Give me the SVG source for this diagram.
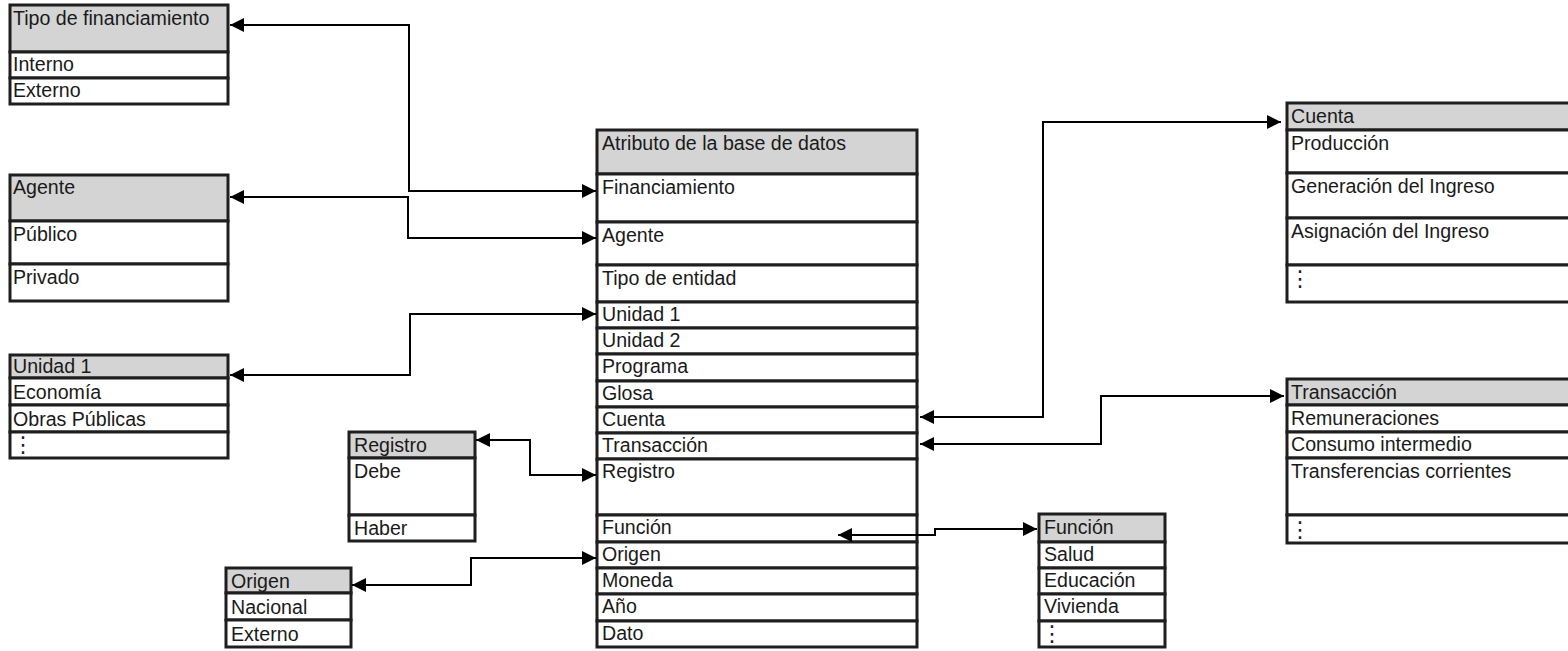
<svg xmlns="http://www.w3.org/2000/svg" width="1568" height="651" viewBox="0 0 1568 651">
<defs>
<style>
.h{fill:#d4d4d4;stroke:#1e1e1e;stroke-width:3}
.r{fill:#ffffff;stroke:#1e1e1e;stroke-width:3}
text{font-family:"Liberation Sans",Arial,sans-serif;font-size:19.6px;fill:#1a1a1a}
.d{font-family:"DejaVu Sans","Liberation Sans",sans-serif;font-size:22px}
.c{fill:none;stroke:#000;stroke-width:2}
</style>
<marker id="ah" viewBox="0 0 14 14" refX="14" refY="7" markerWidth="14" markerHeight="14" markerUnits="userSpaceOnUse" orient="auto-start-reverse">
<path d="M0,0 L14,7 L0,14 z" fill="#000"/>
</marker>
</defs>
<rect width="1568" height="651" fill="#fff"/>

<g id="tipo-financiamiento">
<rect class="h" x="10" y="5" width="218" height="47"/>
<rect class="r" x="10" y="52" width="218" height="26"/>
<rect class="r" x="10" y="78" width="218" height="26"/>
<text x="13" y="25">Tipo de financiamiento</text>
<text x="13" y="71">Interno</text>
<text x="13" y="97">Externo</text>
</g>

<g id="agente">
<rect class="h" x="10" y="175" width="218" height="46"/>
<rect class="r" x="10" y="221" width="218" height="43"/>
<rect class="r" x="10" y="264" width="218" height="37"/>
<text x="13" y="194">Agente</text>
<text x="13" y="241">Público</text>
<text x="13" y="284">Privado</text>
</g>

<g id="unidad1">
<rect class="h" x="10" y="355" width="218" height="23"/>
<rect class="r" x="10" y="378" width="218" height="27"/>
<rect class="r" x="10" y="405" width="218" height="27"/>
<rect class="r" x="10" y="432" width="218" height="26"/>
<text x="13" y="373">Unidad 1</text>
<text x="13" y="399">Economía</text>
<text x="13" y="426">Obras Públicas</text>
<text class="d" x="12" y="452">⋮</text>
</g>

<g id="registro">
<rect class="h" x="349" y="432" width="126" height="26"/>
<rect class="r" x="349" y="458" width="126" height="57"/>
<rect class="r" x="349" y="515" width="126" height="26"/>
<text x="354" y="452">Registro</text>
<text x="354" y="478">Debe</text>
<text x="354" y="535">Haber</text>
</g>

<g id="origen">
<rect class="h" x="226" y="568" width="125" height="25"/>
<rect class="r" x="226" y="593" width="125" height="27"/>
<rect class="r" x="226" y="620" width="125" height="27"/>
<text x="231" y="588">Origen</text>
<text x="231" y="614">Nacional</text>
<text x="231" y="641">Externo</text>
</g>

<g id="atributos">
<rect class="h" x="597" y="130" width="320" height="44"/>
<rect class="r" x="597" y="174" width="320" height="48"/>
<rect class="r" x="597" y="222" width="320" height="43"/>
<rect class="r" x="597" y="265" width="320" height="37"/>
<rect class="r" x="597" y="302" width="320" height="26"/>
<rect class="r" x="597" y="328" width="320" height="26"/>
<rect class="r" x="597" y="354" width="320" height="27"/>
<rect class="r" x="597" y="381" width="320" height="26"/>
<rect class="r" x="597" y="407" width="320" height="26"/>
<rect class="r" x="597" y="433" width="320" height="26"/>
<rect class="r" x="597" y="459" width="320" height="56"/>
<rect class="r" x="597" y="515" width="320" height="27"/>
<rect class="r" x="597" y="542" width="320" height="26"/>
<rect class="r" x="597" y="568" width="320" height="26"/>
<rect class="r" x="597" y="594" width="320" height="27"/>
<rect class="r" x="597" y="621" width="320" height="26"/>
<text x="602" y="150">Atributo de la base de datos</text>
<text x="602" y="194">Financiamiento</text>
<text x="602" y="242">Agente</text>
<text x="602" y="285">Tipo de entidad</text>
<text x="602" y="321">Unidad 1</text>
<text x="602" y="347">Unidad 2</text>
<text x="602" y="373">Programa</text>
<text x="602" y="400">Glosa</text>
<text x="602" y="426">Cuenta</text>
<text x="602" y="452">Transacción</text>
<text x="602" y="478">Registro</text>
<text x="602" y="534">Función</text>
<text x="602" y="561">Origen</text>
<text x="602" y="587">Moneda</text>
<text x="602" y="613">Año</text>
<text x="602" y="640">Dato</text>
</g>

<g id="funcion">
<rect class="h" x="1039" y="514" width="126" height="28"/>
<rect class="r" x="1039" y="542" width="126" height="26"/>
<rect class="r" x="1039" y="568" width="126" height="26"/>
<rect class="r" x="1039" y="594" width="126" height="27"/>
<rect class="r" x="1039" y="621" width="126" height="26"/>
<text x="1044" y="534">Función</text>
<text x="1044" y="561">Salud</text>
<text x="1044" y="587">Educación</text>
<text x="1044" y="613">Vivienda</text>
<text class="d" x="1041" y="641">⋮</text>
</g>

<g id="cuenta">
<rect class="h" x="1287" y="103" width="290" height="27"/>
<rect class="r" x="1287" y="130" width="290" height="43"/>
<rect class="r" x="1287" y="173" width="290" height="45"/>
<rect class="r" x="1287" y="218" width="290" height="47"/>
<rect class="r" x="1287" y="265" width="290" height="37"/>
<text x="1291" y="123">Cuenta</text>
<text x="1291" y="150">Producción</text>
<text x="1291" y="193">Generación del Ingreso</text>
<text x="1291" y="238">Asignación del Ingreso</text>
<text class="d" x="1289" y="286">⋮</text>
</g>

<g id="transaccion">
<rect class="h" x="1287" y="379" width="290" height="26"/>
<rect class="r" x="1287" y="405" width="290" height="27"/>
<rect class="r" x="1287" y="432" width="290" height="26"/>
<rect class="r" x="1287" y="458" width="290" height="57"/>
<rect class="r" x="1287" y="515" width="290" height="28"/>
<text x="1291" y="399">Transacción</text>
<text x="1291" y="425">Remuneraciones</text>
<text x="1291" y="451">Consumo intermedio</text>
<text x="1291" y="478">Transferencias corrientes</text>
<text class="d" x="1289" y="537">⋮</text>
</g>

<g id="connectors">
<path class="c" d="M230,25 H409 V191 H596" marker-start="url(#ah)" marker-end="url(#ah)"/>
<path class="c" d="M230,197 H408 V238 H596" marker-start="url(#ah)" marker-end="url(#ah)"/>
<path class="c" d="M230,375 H410 V314 H596" marker-start="url(#ah)" marker-end="url(#ah)"/>
<path class="c" d="M476,440 H530 V475 H596" marker-start="url(#ah)" marker-end="url(#ah)"/>
<path class="c" d="M352,585 H471 V558 H596" marker-start="url(#ah)" marker-end="url(#ah)"/>
<path class="c" d="M838,535 H935 V529 H1037" marker-start="url(#ah)" marker-end="url(#ah)"/>
<path class="c" d="M920,417 H1043 V122 H1281" marker-start="url(#ah)" marker-end="url(#ah)"/>
<path class="c" d="M920,444 H1101 V396 H1284" marker-start="url(#ah)" marker-end="url(#ah)"/>
</g>
</svg>
